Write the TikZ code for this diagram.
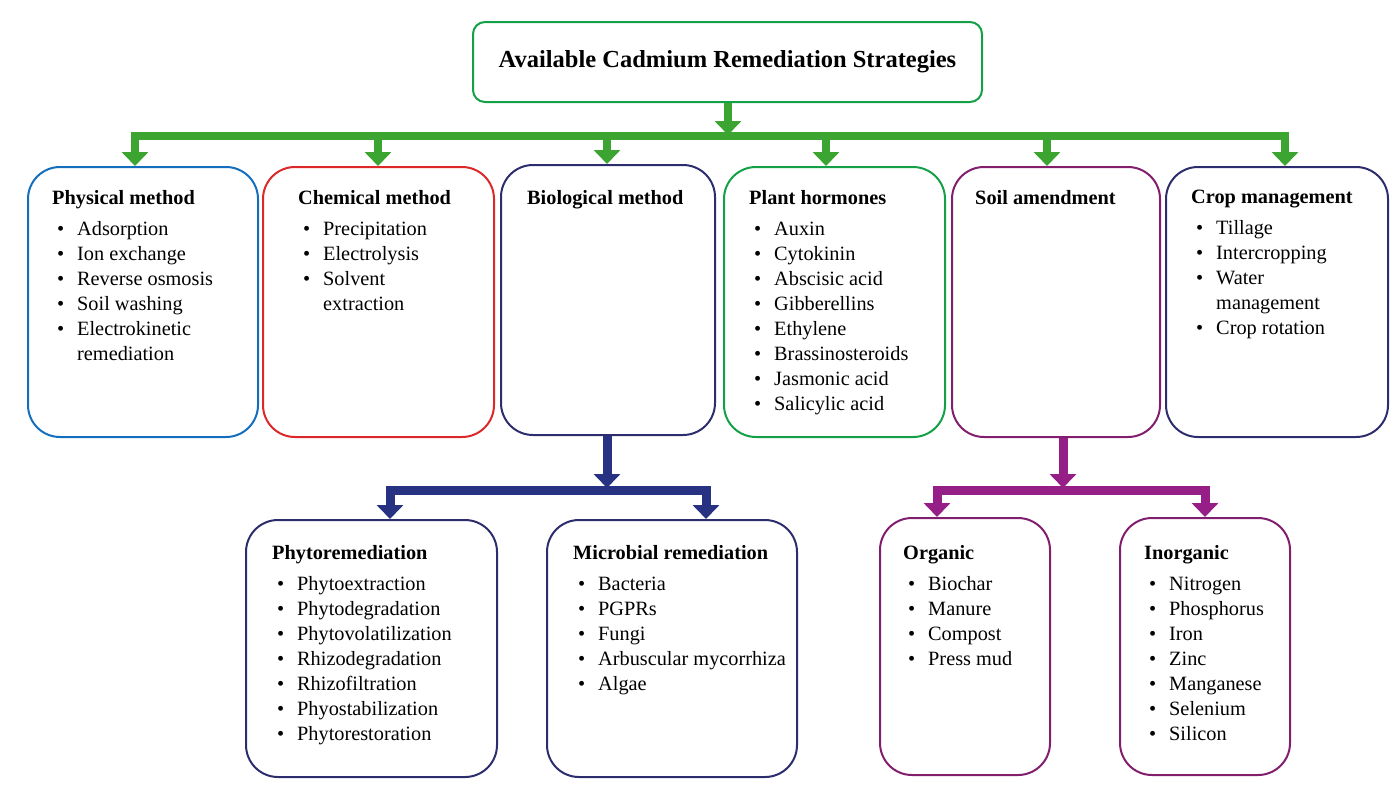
\documentclass[tikz,border=0pt]{standalone}
\usepackage{fontspec}
\setmainfont{Liberation Serif}
\usetikzlibrary{arrows.meta}
\definecolor{cblue}{RGB}{20,110,190}
\definecolor{cred}{RGB}{220,40,40}
\definecolor{cnavy}{RGB}{45,45,110}
\definecolor{cgreen}{RGB}{20,160,70}
\definecolor{cpurp}{RGB}{130,30,110}
\definecolor{agreen}{RGB}{60,165,50}
\definecolor{ablue}{RGB}{40,50,130}
\definecolor{apurp}{RGB}{150,30,135}
\newcommand{\itm}[1]{\hspace*{5pt}\makebox[20pt][l]{\textbullet}#1}
\newcommand{\cnt}[1]{\hspace*{25pt}#1}
\newcommand{\ttl}[1]{\textbf{#1}\\[6pt]}
\begin{document}
\begin{tikzpicture}[x=1pt,y=-1pt,
 box/.style={draw,line width=2pt,rounded corners=32pt,inner sep=0pt},
 txt/.style={anchor=north west,align=left,font=\fontsize{20.3}{25}\selectfont,inner sep=0pt},
 garr/.style={agreen,line width=8pt,-{Triangle[width=26pt,length=14pt]}},
 barr/.style={ablue,line width=9pt,-{Triangle[width=26pt,length=14pt]}},
 parr/.style={apurp,line width=9pt,-{Triangle[width=26pt,length=14pt]}},
]
\useasboundingbox (0,0) rectangle (1394,793);
\node[box,cgreen,rounded corners=12pt,minimum width=509pt,minimum height=80pt] (top) at (727.5,62) {};
\node[font=\fontsize{24.5}{28}\selectfont\bfseries] (toptxt) at (top.center) {Available Cadmium Remediation Strategies};
% row 1
\node[box,cblue,minimum width=230pt,minimum height=270pt] (phys) at (143,302) {};
\node[box,cred,minimum width=231pt,minimum height=270pt] (chem) at (378.5,302) {};
\node[box,cnavy,minimum width=214pt,minimum height=270pt] (bio) at (608,300) {};
\node[box,cgreen,minimum width=221pt,minimum height=270pt] (horm) at (834.5,302) {};
\node[box,cpurp,minimum width=208pt,minimum height=270pt] (soil) at (1056,302) {};
\node[box,cnavy,minimum width=222pt,minimum height=270pt] (crop) at (1277,302) {};
% row 2
\node[box,cnavy,minimum width=251pt,minimum height=257pt] (phyto) at (371.5,648.5) {};
\node[box,cnavy,minimum width=250pt,minimum height=257pt] (micro) at (672,648.5) {};
\node[box,cpurp,minimum width=170pt,minimum height=257pt] (org) at (965,646.5) {};
\node[box,cpurp,minimum width=170pt,minimum height=257pt] (inorg) at (1205,646.5) {};
% texts
\node[txt] (t1) at (52,190) {\ttl{Physical method}\itm{Adsorption}\\\itm{Ion exchange}\\\itm{Reverse osmosis}\\\itm{Soil washing}\\\itm{Electrokinetic}\\\cnt{remediation}};
\node[txt] (t2) at (298,190) {\ttl{Chemical method}\itm{Precipitation}\\\itm{Electrolysis}\\\itm{Solvent}\\\cnt{extraction}};
\node[txt] (t3) at (527,190) {\textbf{Biological method}};
\node[txt] (t4) at (749,190) {\ttl{Plant hormones}\itm{Auxin}\\\itm{Cytokinin}\\\itm{Abscisic acid}\\\itm{Gibberellins}\\\itm{Ethylene}\\\itm{Brassinosteroids}\\\itm{Jasmonic acid}\\\itm{Salicylic acid}};
\node[txt] (t5) at (975,190) {\textbf{Soil amendment}};
\node[txt] (t6) at (1191,190) {\ttl{Crop management}\itm{Tillage}\\\itm{Intercropping}\\\itm{Water}\\\cnt{management}\\\itm{Crop rotation}};
\node[txt] (t7) at (272,545) {\ttl{Phytoremediation}\itm{Phytoextraction}\\\itm{Phytodegradation}\\\itm{Phytovolatilization}\\\itm{Rhizodegradation}\\\itm{Rhizofiltration}\\\itm{Phyostabilization}\\\itm{Phytorestoration}};
\node[txt] (t8) at (573,545) {\ttl{Microbial remediation}\itm{Bacteria}\\\itm{PGPRs}\\\itm{Fungi}\\\itm{Arbuscular mycorrhiza}\\\itm{Algae}};
\node[txt] (t9) at (903,545) {\ttl{Organic}\itm{Biochar}\\\itm{Manure}\\\itm{Compost}\\\itm{Press mud}};
\node[txt] (t10) at (1144,545) {\ttl{Inorganic}\itm{Nitrogen}\\\itm{Phosphorus}\\\itm{Iron}\\\itm{Zinc}\\\itm{Manganese}\\\itm{Selenium}\\\itm{Silicon}};
% green connectors
\coordinate (gb) at (728,136);
\draw[garr] (top.south -| gb) -- ([yshift=1pt]gb);
\draw[agreen,line width=8pt] (131,136) -- (1289,136);
\foreach \n/\x in {phys/135,chem/378,bio/607,horm/826,soil/1047,crop/1285}
  \draw[garr] (\x,132) -- (\x,0 |- \n.north);
% blue
\draw[barr] (607,0 |- bio.south) -- (607,488);
\draw[ablue,line width=9pt,line join=miter] (390,500) -- (390,490) -- (706,490) -- (706,500);
\draw[barr] (390,496) -- (390,0 |- phyto.north);
\draw[barr] (706,496) -- (706,0 |- micro.north);
% purple
\draw[parr] (1063,0 |- soil.south) -- (1063,488);
\draw[apurp,line width=9pt,line join=miter] (937,500) -- (937,490) -- (1205,490) -- (1205,500);
\draw[parr] (937,496) -- (937,0 |- org.north);
\draw[parr] (1205,496) -- (1205,0 |- inorg.north);
\end{tikzpicture}
\end{document}
